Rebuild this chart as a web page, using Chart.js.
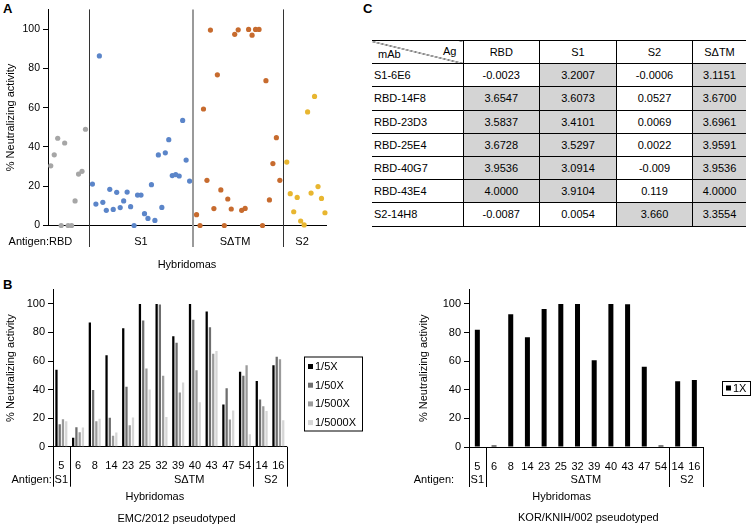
<!DOCTYPE html>
<html>
<head>
<meta charset="utf-8">
<script src="https://cdn.jsdelivr.net/npm/chart.js@4.4.0/dist/chart.umd.min.js"></script>
<style>
  body { margin: 0; background: #fff; }
  #fig { position: relative; width: 752px; height: 527px; overflow: hidden;
         font-family: "Liberation Sans", Arial, sans-serif; color: #000; }
  canvas { position: absolute; }
  .panel { position: absolute; font-weight: bold; font-size: 13px; }
  #odTable { position: absolute; left: 372px; top: 40px; width: 374px;
             border-collapse: collapse; table-layout: fixed; font-size: 11px; }
  #odTable td { height: 22.2px; padding: 0; text-align: center;
                border-top: 1px solid #000; border-bottom: 1px solid #000; }
  #odTable td + td { border-left: 1px solid #000; }
  #odTable td.name { text-align: left; padding-left: 2px; }
  #odTable td.hi { background: #d4d4d4; }
  #odTable td.corner { background: linear-gradient(to top right, transparent calc(50% - 0.6px), #000 50%, transparent calc(50% + 0.6px)); }
  .corner span { display: flex; justify-content: space-between; padding: 0 3px 0 3px; }
</style>
</head>
<body>
<div id="fig">
  <div class="panel" style="left:3px; top:1px;">A</div>
  <div class="panel" style="left:363px; top:1px;">C</div>
  <div class="panel" style="left:3px; top:277px;">B</div>
  <canvas id="panelA" width="370" height="275" style="left:0; top:0;"></canvas>
  <table id="odTable"></table>
  <canvas id="panelEMC" width="370" height="247" style="left:0; top:280px;"></canvas>
  <canvas id="panelKOR" width="372" height="247" style="left:380px; top:280px;"></canvas>
</div>
<script>
// Panel A: % neutralizing activity of each hybridoma, grouped by immunizing antigen
const antigenNames = ["RBD", "S1", "SΔTM", "S2"];
const rbdActivity = [30.4, 36, 44.4, 0, 42, 0, 0, 12.5, 26.2, 27.6, 49];
const s1Activity = [21.1, 10.9, 86.3, 11.8, 7.7, 18.4, 8.2, 16.9, 9.1, 12.5, 17, 9.6, 0, 15.5, 15.5,
                    6, 3.6, 20.8, 2.6, 35.9, 9.2, 37, 43.7, 25.4, 25.9, 25.2, 53.5, 33.3, 22.6];
const sdtmActivity = [5.5, 0, 59.3, 23, 99.5, 8.6, 76.7, 18.1, 0, 13.5, 8.4, 97.3, 99.6, 7.7, 8.7,
                      99.8, 96.9, 99.8, 99.8, 0, 73.7, 13, 31.5, 44.7, 23];
const s2Activity = [32.3, 16.2, 7, 14.3, 2.3, 0.3, 57.8, 16.5, 65.7, 19.8, 13.8, 6.5];
const groupColors = ["#a6a6a6", "#5b85c9", "#c76b2e", "#e8b630"];

// Panel B: pseudovirus neutralization per hybridoma
const hybridomaIds = ["5", "6", "8", "14", "23", "25", "32", "39", "40", "43", "47", "54", "14", "16"];
const dilutionLabels = ["1/5X", "1/50X", "1/500X", "1/5000X"];
const emcDil5 = [53.8, 6.2, 87, 64, 83, 100, 100, 77.3, 100, 94.7, 29.6, 52.4, 46, 57];
const emcDil50 = [15.7, 13.6, 39.7, 20.3, 42, 88.4, 99.5, 72.7, 88.9, 83.7, 40.9, 49.7, 33, 63];
const emcDil500 = [19.2, 10.2, 17.8, 7.6, 15, 54.7, 49.7, 38, 53.6, 65, 19.1, 57, 28.4, 61.2];
const emcDil5000 = [17.8, 13.4, 19.6, 10, 20.5, 40, 20.8, 45, 31.2, 67, 25.3, 8.8, 25, 18.5];
const dilutionColors = ["#000000", "#6e6e6e", "#9b9b9b", "#d6d6d6"];
const korLabel = "1X";
const kor1X = [82, 1, 92.8, 76.7, 96.5, 100, 100, 60.6, 100, 99.8, 56, 1, 46, 46.8];

// Panel C: ELISA OD of purified mAbs against each antigen
const mAbNames = ["S1-6E6", "RBD-14F8", "RBD-23D3", "RBD-25E4", "RBD-40G7", "RBD-43E4", "S2-14H8"];
const agColumns = ["RBD", "S1", "S2", "SΔTM"];
const odRBD = ["-0.0023", "3.6547", "3.5837", "3.6728", "3.9536", "4.0000", "-0.0087"];
const odS1 = ["3.2007", "3.6073", "3.4101", "3.5297", "3.0914", "3.9104", "0.0054"];
const odS2 = ["-0.0006", "0.0527", "0.0069", "0.0022", "-0.009", "0.119", "3.660"];
const odSdTM = ["3.1151", "3.6700", "3.6961", "3.9591", "3.9536", "4.0000", "3.3554"];

const FONT = '"Liberation Sans", Arial, sans-serif';
Chart.defaults.font.family = FONT;
Chart.defaults.color = "#000";
Chart.defaults.animation = false;

function txt(ctx, s, x, y, size, align) {
  ctx.save();
  ctx.font = (size || 11) + "px " + FONT;
  ctx.fillStyle = "#000";
  ctx.textAlign = align || "center";
  ctx.textBaseline = "middle";
  ctx.fillText(s, x, y);
  ctx.restore();
}
function vline(ctx, x, y0, y1, color, w) {
  ctx.save();
  ctx.strokeStyle = color;
  ctx.lineWidth = w;
  ctx.beginPath();
  ctx.moveTo(x, y0);
  ctx.lineTo(x, y1);
  ctx.stroke();
  ctx.restore();
}

// ---------- Panel A ----------
const groupVals = [rbdActivity, s1Activity, sdtmActivity, s2Activity];
const groupStart = [0, 12, 42, 68];

new Chart(document.getElementById("panelA"), {
  type: "scatter",
  data: {
    datasets: groupVals.map((vals, g) => ({
      label: antigenNames[g],
      data: vals.map((v, i) => ({ x: groupStart[g] + i, y: v })),
      backgroundColor: groupColors[g],
      pointRadius: 2.6,
      pointBorderWidth: 0,
      clip: false
    }))
  },
  options: {
    responsive: false,
    layout: { padding: { top: 9.4, right: 44, left: 0, bottom: 0 } },
    plugins: { legend: { display: false }, tooltip: { enabled: false } },
    scales: {
      x: {
        type: "linear", min: -0.8, max: 79.3,
        ticks: { display: false }, grid: { display: false },
        border: { color: "#000" },
        afterFit: s => { s.height = 49.5; }
      },
      y: {
        min: 0, max: 110,
        ticks: { stepSize: 20, includeBounds: false, font: { size: 10.5 }, padding: 3 },
        grid: { drawOnChartArea: false, tickLength: 5, color: "#000" },
        border: { color: "#000" },
        title: { display: true, text: "% Neutralizing activity", font: { size: 11 } },
        afterFit: s => { s.width = 48; }
      }
    }
  },
  plugins: [{
    id: "groupsA",
    beforeDatasetsDraw(chart) {
      const { ctx, chartArea: a, scales: { x } } = chart;
      vline(ctx, Math.round(x.getPixelForValue(11)) + 0.5, a.top, a.bottom + 21.5, "#333", 1);
      vline(ctx, Math.round(x.getPixelForValue(41)), a.top, a.bottom + 21.5, "#9a9a9a", 2);
      vline(ctx, Math.round(x.getPixelForValue(67)) + 0.5, a.top, a.bottom + 21.5, "#333", 1);
      const y = a.bottom + 16.5;
      txt(ctx, "Antigen:" + antigenNames[0], x.getPixelForValue(-3), y);
      txt(ctx, antigenNames[1], x.getPixelForValue(26), y);
      txt(ctx, antigenNames[2], x.getPixelForValue(53.1), y);
      txt(ctx, antigenNames[3], x.getPixelForValue(72.4), y);
      txt(ctx, "Hybridomas", (a.left + a.right) / 2, a.bottom + 39.5);
    }
  }]
});

// ---------- Panel C (table) ----------
(function buildTable() {
  const t = document.getElementById("odTable");
  const widths = [91, 76.5, 77, 76, 53.5];
  const cg = document.createElement("colgroup");
  widths.forEach(w => { const c = document.createElement("col"); c.style.width = w + "px"; cg.appendChild(c); });
  t.appendChild(cg);
  let html = '<tr><td class="corner"><span><span style="padding-top:3px">mAb</span><span style="padding-bottom:3px">Ag</span></span></td>';
  agColumns.forEach(a => { html += "<td>" + a + "</td>"; });
  html += "</tr>";
  const cols = [odRBD, odS1, odS2, odSdTM];
  mAbNames.forEach((m, r) => {
    html += '<tr><td class="name">' + m + "</td>";
    cols.forEach(c => {
      html += '<td class="' + (parseFloat(c[r]) > 1 ? "hi" : "") + '">' + c[r] + "</td>";
    });
    html += "</tr>";
  });
  t.innerHTML += html;
})();

// ---------- Panel B ----------
function barChart(id, datasets, cfg) {
  return new Chart(document.getElementById(id), {
    type: "bar",
    data: { labels: hybridomaIds, datasets },
    options: {
      responsive: false,
      layout: { padding: cfg.padding },
      plugins: { legend: { display: false }, tooltip: { enabled: false } },
      scales: {
        x: {
          grid: { display: false },
          border: { color: "#000" },
          ticks: { padding: 5, font: { size: 11 }, maxRotation: 0, autoSkip: false },
          afterFit: s => { s.height = cfg.xh; }
        },
        y: {
          min: 0, max: 110,
          ticks: { stepSize: 20, includeBounds: false, font: { size: 11 }, padding: 3 },
          grid: { drawOnChartArea: false, tickLength: 5, color: "#000" },
          border: { color: "#000" },
          title: { display: true, text: "% Neutralizing activity", font: { size: 11 } },
          afterFit: s => { s.width = cfg.yw; }
        }
      }
    },
    plugins: [{
      id: "brackets",
      afterDraw(chart) {
        const { ctx, chartArea: a, scales: { x } } = chart;
        [-0.5, 0.5, 11.5, 13.5].forEach(b => {
          vline(ctx, Math.round(x.getPixelForValue(b)) + 0.5, a.bottom, a.bottom + 40, "#000", 1);
        });
        const y = a.bottom + 33.3;
        txt(ctx, "Antigen:", x.getPixelForValue(cfg.antigenAt), y);
        txt(ctx, "S1", x.getPixelForValue(0), y);
        txt(ctx, "SΔTM", x.getPixelForValue(cfg.sdtmAt), y);
        txt(ctx, "S2", x.getPixelForValue(12.55), y);
        txt(ctx, "Hybridomas", x.getPixelForValue(cfg.hybAt), a.bottom + 50);
        txt(ctx, cfg.caption, x.getPixelForValue(cfg.capAt), a.bottom + cfg.capDy);
        // legend box
        const L = cfg.legend;
        ctx.save();
        ctx.strokeStyle = "#000";
        ctx.lineWidth = 1;
        ctx.strokeRect(L.x + 0.5, L.y + 0.5, L.w, L.h);
        chart.data.datasets.forEach((d, i) => {
          const cy = L.y + L.first + i * L.step;
          ctx.fillStyle = d.backgroundColor;
          ctx.fillRect(L.x + 4, cy - 2.5, 5, 5);
          txt(ctx, d.label, L.x + 11, cy + 0.5, 11, "left");
        });
        ctx.restore();
      }
    }]
  });
}

const emcSeries = [emcDil5, emcDil50, emcDil500, emcDil5000];
barChart("panelEMC", emcSeries.map((vals, i) => ({
  label: dilutionLabels[i], data: vals, backgroundColor: dilutionColors[i],
  categoryPercentage: 0.78, barPercentage: 0.7
})), {
  padding: { top: 7.9, right: 83.3, left: 0, bottom: 0 }, xh: 80.3, yw: 53,
  antigenAt: -1.78, sdtmAt: 7.66, hybAt: 5.6, capAt: 6.9, capDy: 72.3,
  caption: "EMC/2012 pseudotyped",
  legend: { x: 304, y: 76.5, w: 58, h: 74, first: 10, step: 18.7 }
});

barChart("panelKOR", [{
  label: korLabel, data: kor1X, backgroundColor: "#000",
  categoryPercentage: 0.3, barPercentage: 1
}], {
  padding: { top: 7.8, right: 49.3, left: 33, bottom: 0 }, xh: 80, yw: 56,
  antigenAt: -2.6, sdtmAt: 6.5, hybAt: 5.05, capAt: 6.65, capDy: 71,
  caption: "KOR/KNIH/002 pseudotyped",
  legend: { x: 342, y: 101, w: 28, h: 14, first: 7, step: 0 }
});
</script>
</body>
</html>
